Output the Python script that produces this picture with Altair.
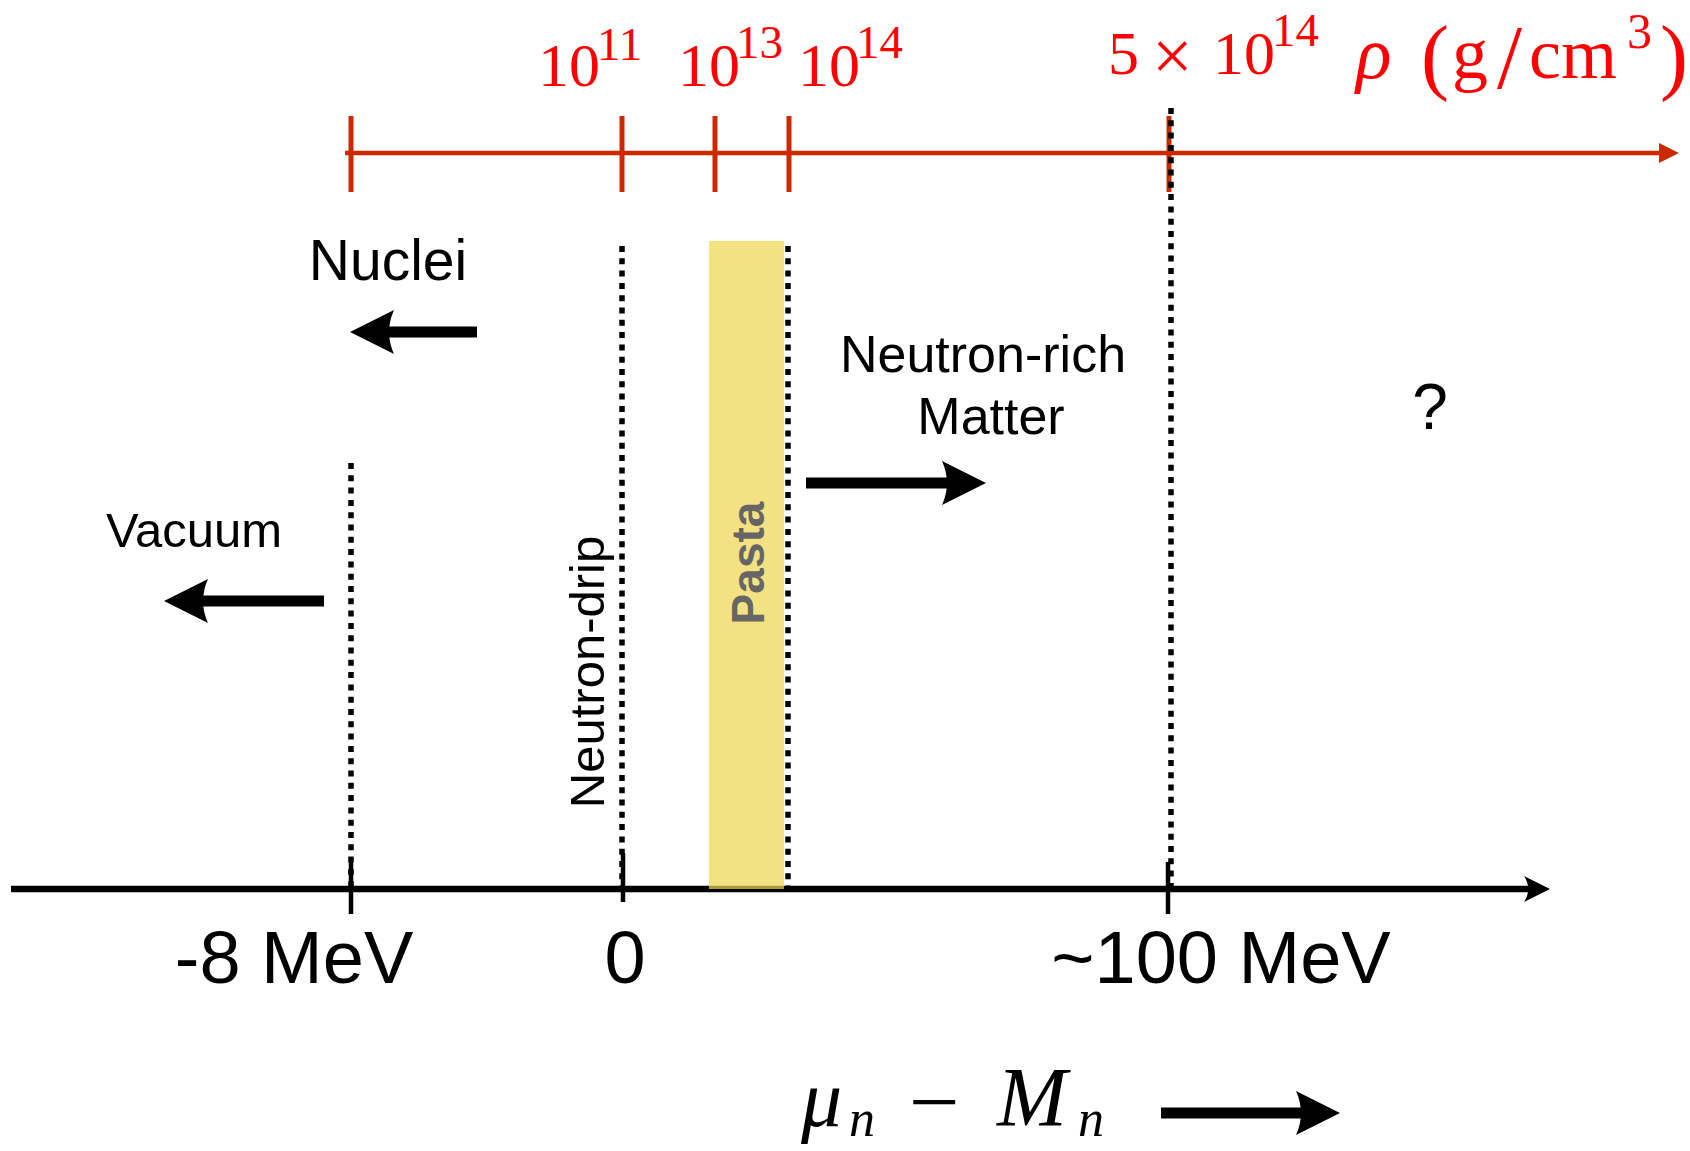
import altair as alt
import pandas as pd

W, H = 1690, 1151

# ---------------- top (density) axis, red ----------------
rho_axis_x = [345, 1669]
rho_axis_y = 153
rho_arrow_tip = 1679
rho_tick_x = [351, 622, 715, 789, 1169]
rho_tick_y = [116, 192]

rho_base_text = ["10", "10", "10", "5", "×", "10"]
rho_base_x = [538, 678, 798, 1108, 1152, 1213]
rho_base_y = [86, 86, 86, 74, 80, 74]
rho_base_fs = [62, 62, 62, 62, 72, 62]
rho_exp_text = ["11", "13", "14", "14"]
rho_exp_x = [597, 736, 856, 1272]
rho_exp_y = [60, 58, 58, 46]
rho_sym = ["ρ"]
rho_sym_x = [1356]
rho_unit_text = ["(", "g", "/", "cm", ")"]
rho_unit_x = [1421, 1452, 1497, 1529, 1660]
rho_unit_y = [84, 78, 88, 78, 84]
rho_unit_fs = [84, 72, 90, 72, 84]
rho_unit_exp = ["3"]
rho_unit_exp_x = [1627]
rho_sym_y = 78
rho_unit_exp_y = 48

# ---------------- bottom (mu_n - M_n) axis, black ----------------
mu_axis_x = [11, 1537]
mu_axis_y = 889
mu_arrow_tip = 1550
mu_tick_x = [351, 623, 1168]
mu_tick_top = [862, 853, 862]
mu_tick_bot = [914, 902, 914]
mu_label_text = ["-8 MeV", "0", "~100 MeV"]
mu_label_x = [294, 625, 1221]
mu_label_y = 983

# ---------------- dotted boundaries ----------------
bound_x = [351, 622, 788, 1171]
bound_top = [463, 246, 246, 108]
bound_bot = 889

# ---------------- pasta band ----------------
pasta_x = [709, 784]
pasta_y = [241, 889]

# ---------------- region labels ----------------
region_text = ["Nuclei", "Vacuum", "Neutron-rich", "Matter", "?"]
region_x = [388, 194, 983, 991, 1430]
region_y = [280, 547, 372, 434, 429]
region_fs = [57, 49, 52, 52, 64]

# ---------------- arrows ----------------
arrow_name = ["nuclei", "vacuum", "rich", "mu"]
arrow_tail = [477, 324, 806, 1161]
arrow_tip = [350, 164, 986, 1340]
arrow_y = [332, 601, 483, 1113]
arrow_head = 44

# ---------------- formula mu_n - M_n ----------------
form_text = ["μ", "n", "−", "M", "n"]
form_x = [801, 849, 909, 997, 1078]
form_y = [1126, 1136, 1132, 1126, 1136]
form_fs = [82, 52, 90, 84, 52]
form_italic = [True, True, False, True, True]

RED_AXIS = "#cc2900"
RED_TXT = "#ff0000"
SERIF = "Liberation Serif"
SANS = "Liberation Sans"

xs = alt.Scale(domain=[0, W], range=[0, W], nice=False, zero=False)
ys = alt.Scale(domain=[0, H], range=[0, H], nice=False, zero=False)


def X(f="x"):
    return alt.X(f"{f}:Q", scale=xs, axis=None)


def Y(f="y"):
    return alt.Y(f"{f}:Q", scale=ys, axis=None)


FS = alt.Size("fs:Q", scale=None)
layers = []

# red axis line
df = pd.DataFrame({"x": [rho_axis_x[0]], "x2": [rho_axis_x[1]], "y": [rho_axis_y]})
layers.append(alt.Chart(df).mark_rule(color=RED_AXIS, strokeWidth=4.5).encode(
    x=X(), x2="x2:Q", y=Y()))
# red ticks
df = pd.DataFrame({"x": rho_tick_x, "y": rho_tick_y[0], "y2": rho_tick_y[1]})
layers.append(alt.Chart(df).mark_rule(color=RED_AXIS, strokeWidth=5).encode(
    x=X(), y=Y(), y2="y2:Q"))
# red arrow head (triangle)
tri = "M 1 0 L -1 -1 L -1 1 Z"
df = pd.DataFrame({"x": [rho_arrow_tip - 10], "y": [rho_axis_y]})
layers.append(alt.Chart(df).mark_point(shape=tri, filled=True, color=RED_AXIS,
                                       opacity=1, size=400, strokeWidth=0).encode(x=X(), y=Y()))

# black bottom axis
df = pd.DataFrame({"x": [mu_axis_x[0]], "x2": [mu_axis_x[1]], "y": [mu_axis_y]})
layers.append(alt.Chart(df).mark_rule(color="black", strokeWidth=6.5).encode(
    x=X(), x2="x2:Q", y=Y()))
thin = "M 1 0 L -1 -1 Q -0.35 0 -1 1 Z"
df = pd.DataFrame({"x": [mu_arrow_tip - 13], "y": [mu_axis_y]})
layers.append(alt.Chart(df).mark_point(shape=thin, filled=True, color="black",
                                       opacity=1, size=26 * 26, strokeWidth=0).encode(x=X(), y=Y()))
df = pd.DataFrame({"x": mu_tick_x, "y": mu_tick_top, "y2": mu_tick_bot})
layers.append(alt.Chart(df).mark_rule(color="black", strokeWidth=4.5).encode(
    x=X(), y=Y(), y2="y2:Q"))

# dotted boundaries
df = pd.DataFrame({"x": bound_x, "y": bound_top, "y2": bound_bot})
layers.append(alt.Chart(df).mark_rule(color="black", strokeWidth=5.5, strokeDash=[6, 6.3]).encode(
    x=X(), y=Y(), y2="y2:Q"))

# pasta band
df = pd.DataFrame({"x": [pasta_x[0]], "x2": [pasta_x[1]], "y": [pasta_y[0]], "y2": [pasta_y[1]]})
layers.append(alt.Chart(df).mark_rect(color="#f0d550", opacity=0.72).encode(
    x=X(), x2="x2:Q", y=Y(), y2="y2:Q"))

# rotated labels
df = pd.DataFrame({"x": [604], "y": [672], "t": ["Neutron-drip"]})
layers.append(alt.Chart(df).mark_text(angle=270, align="center", baseline="alphabetic",
                                      font=SANS, fontSize=49, color="black").encode(
    x=X(), y=Y(), text="t:N"))
df = pd.DataFrame({"x": [764], "y": [563], "t": ["Pasta"]})
layers.append(alt.Chart(df).mark_text(angle=270, align="center", baseline="alphabetic",
                                      font=SANS, fontSize=46, fontWeight="bold", color="#666666").encode(
    x=X(), y=Y(), text="t:N"))

# region labels
df = pd.DataFrame({"x": region_x, "y": region_y, "t": region_text, "fs": region_fs})
layers.append(alt.Chart(df).mark_text(align="center", baseline="alphabetic", font=SANS,
                                      color="black").encode(
    x=X(), y=Y(), text="t:N", size=FS))

# bottom axis labels
df = pd.DataFrame({"x": mu_label_x, "y": mu_label_y, "t": mu_label_text})
layers.append(alt.Chart(df).mark_text(align="center", baseline="alphabetic", font=SANS,
                                      fontSize=74, color="black").encode(
    x=X(), y=Y(), text="t:N"))

# red density labels
df = pd.DataFrame({"x": rho_base_x, "y": rho_base_y, "t": rho_base_text, "fs": rho_base_fs})
layers.append(alt.Chart(df).mark_text(align="left", baseline="alphabetic", font=SERIF,
                                      color=RED_TXT).encode(
    x=X(), y=Y(), text="t:N", size=FS))
df = pd.DataFrame({"x": rho_exp_x, "y": rho_exp_y, "t": rho_exp_text})
layers.append(alt.Chart(df).mark_text(align="left", baseline="alphabetic", font=SERIF,
                                      fontSize=47, color=RED_TXT).encode(
    x=X(), y=Y(), text="t:N"))
df = pd.DataFrame({"x": rho_sym_x, "y": rho_sym_y, "t": rho_sym})
layers.append(alt.Chart(df).mark_text(align="left", baseline="alphabetic", font=SERIF,
                                      fontSize=74, fontStyle="italic", color=RED_TXT).encode(
    x=X(), y=Y(), text="t:N"))
df = pd.DataFrame({"x": rho_unit_x, "y": rho_unit_y, "t": rho_unit_text, "fs": rho_unit_fs})
layers.append(alt.Chart(df).mark_text(align="left", baseline="alphabetic", font=SERIF,
                                      color=RED_TXT).encode(
    x=X(), y=Y(), text="t:N", size=FS))
df = pd.DataFrame({"x": rho_unit_exp_x, "y": rho_unit_exp_y, "t": rho_unit_exp})
layers.append(alt.Chart(df).mark_text(align="left", baseline="alphabetic", font=SERIF,
                                      fontSize=50, color=RED_TXT).encode(
    x=X(), y=Y(), text="t:N"))

# formula
fdf = pd.DataFrame({"x": form_x, "y": form_y, "t": form_text, "fs": form_fs, "it": form_italic})
layers.append(alt.Chart(fdf[fdf.it]).mark_text(align="left", baseline="alphabetic", font=SERIF,
                                               fontStyle="italic", color="black").encode(
    x=X(), y=Y(), text="t:N", size=FS))
layers.append(alt.Chart(fdf[~fdf.it]).mark_text(align="left", baseline="alphabetic", font=SERIF,
                                                color="black").encode(
    x=X(), y=Y(), text="t:N", size=FS))

# thick arrows
adf = pd.DataFrame({"name": arrow_name, "tail": arrow_tail, "tip": arrow_tip, "y": arrow_y})
adf["dir"] = (adf["tip"] > adf["tail"]).map({True: 1, False: -1})
adf["hx"] = adf["tip"] - adf["dir"] * arrow_head / 2
adf["ang"] = adf["dir"].map({1: 0, -1: 180})
layers.append(alt.Chart(adf).mark_rule(color="black", strokeWidth=11).encode(
    x=alt.X("tail:Q", scale=xs, axis=None), x2="hx:Q", y=Y()))
stealth = "M 1 0 L -1 -1 Q -0.55 0 -1 1 Z"
layers.append(alt.Chart(adf).mark_point(shape=stealth, filled=True, color="black", opacity=1,
                                        size=arrow_head * arrow_head, strokeWidth=0).encode(
    x=X("hx"), y=Y(), angle=alt.Angle("ang:Q", scale=None)))

chart = alt.layer(*layers).properties(
    width=W, height=H, padding=0, autosize="none", background="white"
).configure_view(stroke=None)

chart.save("out.html", embed_options={"renderer": "svg", "actions": False})
